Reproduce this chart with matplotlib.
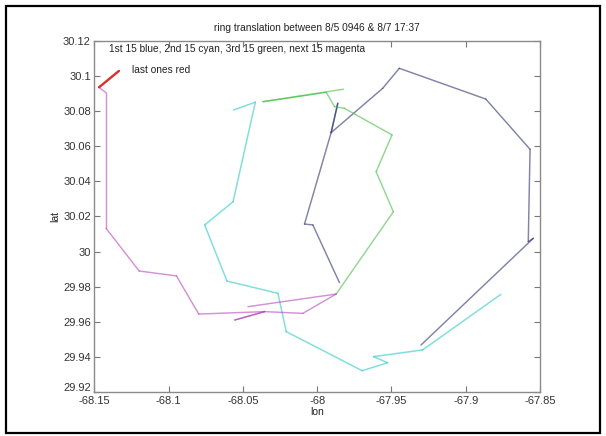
import numpy as np
import matplotlib.pyplot as plt
import matplotlib.transforms as mtransforms
from matplotlib.collections import LineCollection
from matplotlib.patches import Rectangle

plt.rcParams['font.family'] = ['Liberation Sans', 'DejaVu Sans']

# ring centre positions, one track per colour (time order: blue, cyan, green, magenta, red)
blue_lon = [-67.9301, -67.8545, -67.8579, -67.8567, -67.8865, -67.9447, -67.9559,
            -67.9906, -67.9861, -67.9906, -68.0085, -68.0029, -67.9850]
blue_lat = [29.9469, 30.0076, 30.0057, 30.0582, 30.0868, 30.1043, 30.0929,
            30.0677, 30.0844, 30.0677, 30.0157, 30.0152, 29.9824]

cyan_lon = [-67.8764, -67.9290, -67.9620, -67.9526, -67.9697, -68.0208,
            -68.0264, -68.0607, -68.0757, -68.0566, -68.0416, -68.0562]
cyan_lat = [29.9757, 29.9441, 29.9403, 29.9368, 29.9323, 29.9545,
            29.9763, 29.9833, 30.0152, 30.0284, 30.0850, 30.0806]

green_lon = [-67.9823, -68.0365, -67.9939, -67.9883, -67.9816, -67.9496,
             -67.9603, -67.9487, -67.9872]
green_lat = [30.0924, 30.0853, 30.0906, 30.0825, 30.0815, 30.0664,
             30.0455, 30.0227, 29.9759]

magenta_lon = [-68.0466, -67.9872, -68.0096, -68.0354, -68.0555, -68.0354,
               -68.0797, -68.0947, -68.1198, -68.1421, -68.1421, -68.1468]
magenta_lat = [29.9687, 29.9759, 29.9649, 29.9659, 29.9611, 29.9659,
               29.9645, 29.9862, 29.9890, 30.0133, 30.0904, 30.0935]

red_lon = [-68.1468, -68.1334]
red_lat = [30.0935, 30.1028]

x_ticks = [-68.15, -68.1, -68.05, -68, -67.95, -67.9, -67.85]
x_labels = ['-68.15', '-68.1', '-68.05', '-68', '-67.95', '-67.9', '-67.85']
y_ticks = [29.92, 29.94, 29.96, 29.98, 30.0, 30.02, 30.04, 30.06, 30.08, 30.1, 30.12]
y_labels = ['29.92', '29.94', '29.96', '29.98', '30', '30.02', '30.04',
            '30.06', '30.08', '30.1', '30.12']

fig = plt.figure(figsize=(6.06, 4.36), dpi=100)
ax = fig.add_axes([0.1556, 0.1002, 0.7355, 0.8065])


def track(lon, lat, color, alpha, lw):
    # each leg drawn on its own so doubled-back legs come out darker
    pts = np.column_stack([lon, lat])
    segs = np.stack([pts[:-1], pts[1:]], axis=1)
    ax.add_collection(LineCollection(segs, colors=color, alpha=alpha, linewidths=lw,
                                     capstyle='round'))


track(blue_lon, blue_lat, '#303070', 0.6, 1.05)
track(cyan_lon, cyan_lat, '#30c8c8', 0.6, 1.1)
track(green_lon, green_lat, '#38b838', 0.55, 1.05)
track(magenta_lon, magenta_lat, '#b038b8', 0.55, 1.05)
track(red_lon, red_lat, '#d81818', 0.9, 1.7)

ax.text(-68.1399, 30.1151, '1st 15 blue, 2nd 15 cyan, 3rd 15 green, next 15 magenta',
        fontsize=7.3, va='center', ha='left', color='#222222')
ax.text(-68.1243, 30.1033, 'last ones red', fontsize=7.3, va='center', ha='left',
        color='#222222')

ax.set_xlim(-68.15, -67.85)
ax.set_ylim(29.92, 30.12)
ax.set_xticks(x_ticks)
ax.set_xticklabels(x_labels)
ax.set_yticks(y_ticks)
ax.set_yticklabels(y_labels)
ax.tick_params(direction='in', length=4, width=0.8, color='#777777', labelsize=8,
               labelcolor='#333333', top=True, right=True, pad=2.5)
for s in ax.spines.values():
    s.set_color('#8a8a8a')
    s.set_linewidth(1.0)

# lift the bottom lat label a little so it clears the first lon label
bottom_lbl = ax.get_yticklabels()[0]
bottom_lbl.set_transform(bottom_lbl.get_transform() +
                         mtransforms.ScaledTranslation(0, 4 / 72, fig.dpi_scale_trans))

ax.set_title('ring translation between 8/5 0946 & 8/7 17:37', fontsize=7.3,
             color='#222222', pad=7)
ax.set_xlabel('lon', fontsize=7.5, color='#222222', labelpad=1)
ax.set_ylabel('lat', fontsize=7.5, color='#222222', labelpad=2)

# black frame round the whole figure
fig.patches.append(Rectangle((0.0099, 0.0069), 0.980, 0.979, transform=fig.transFigure,
                             fill=False, edgecolor='black', linewidth=1.6))

fig.savefig('out.png', dpi=100)
